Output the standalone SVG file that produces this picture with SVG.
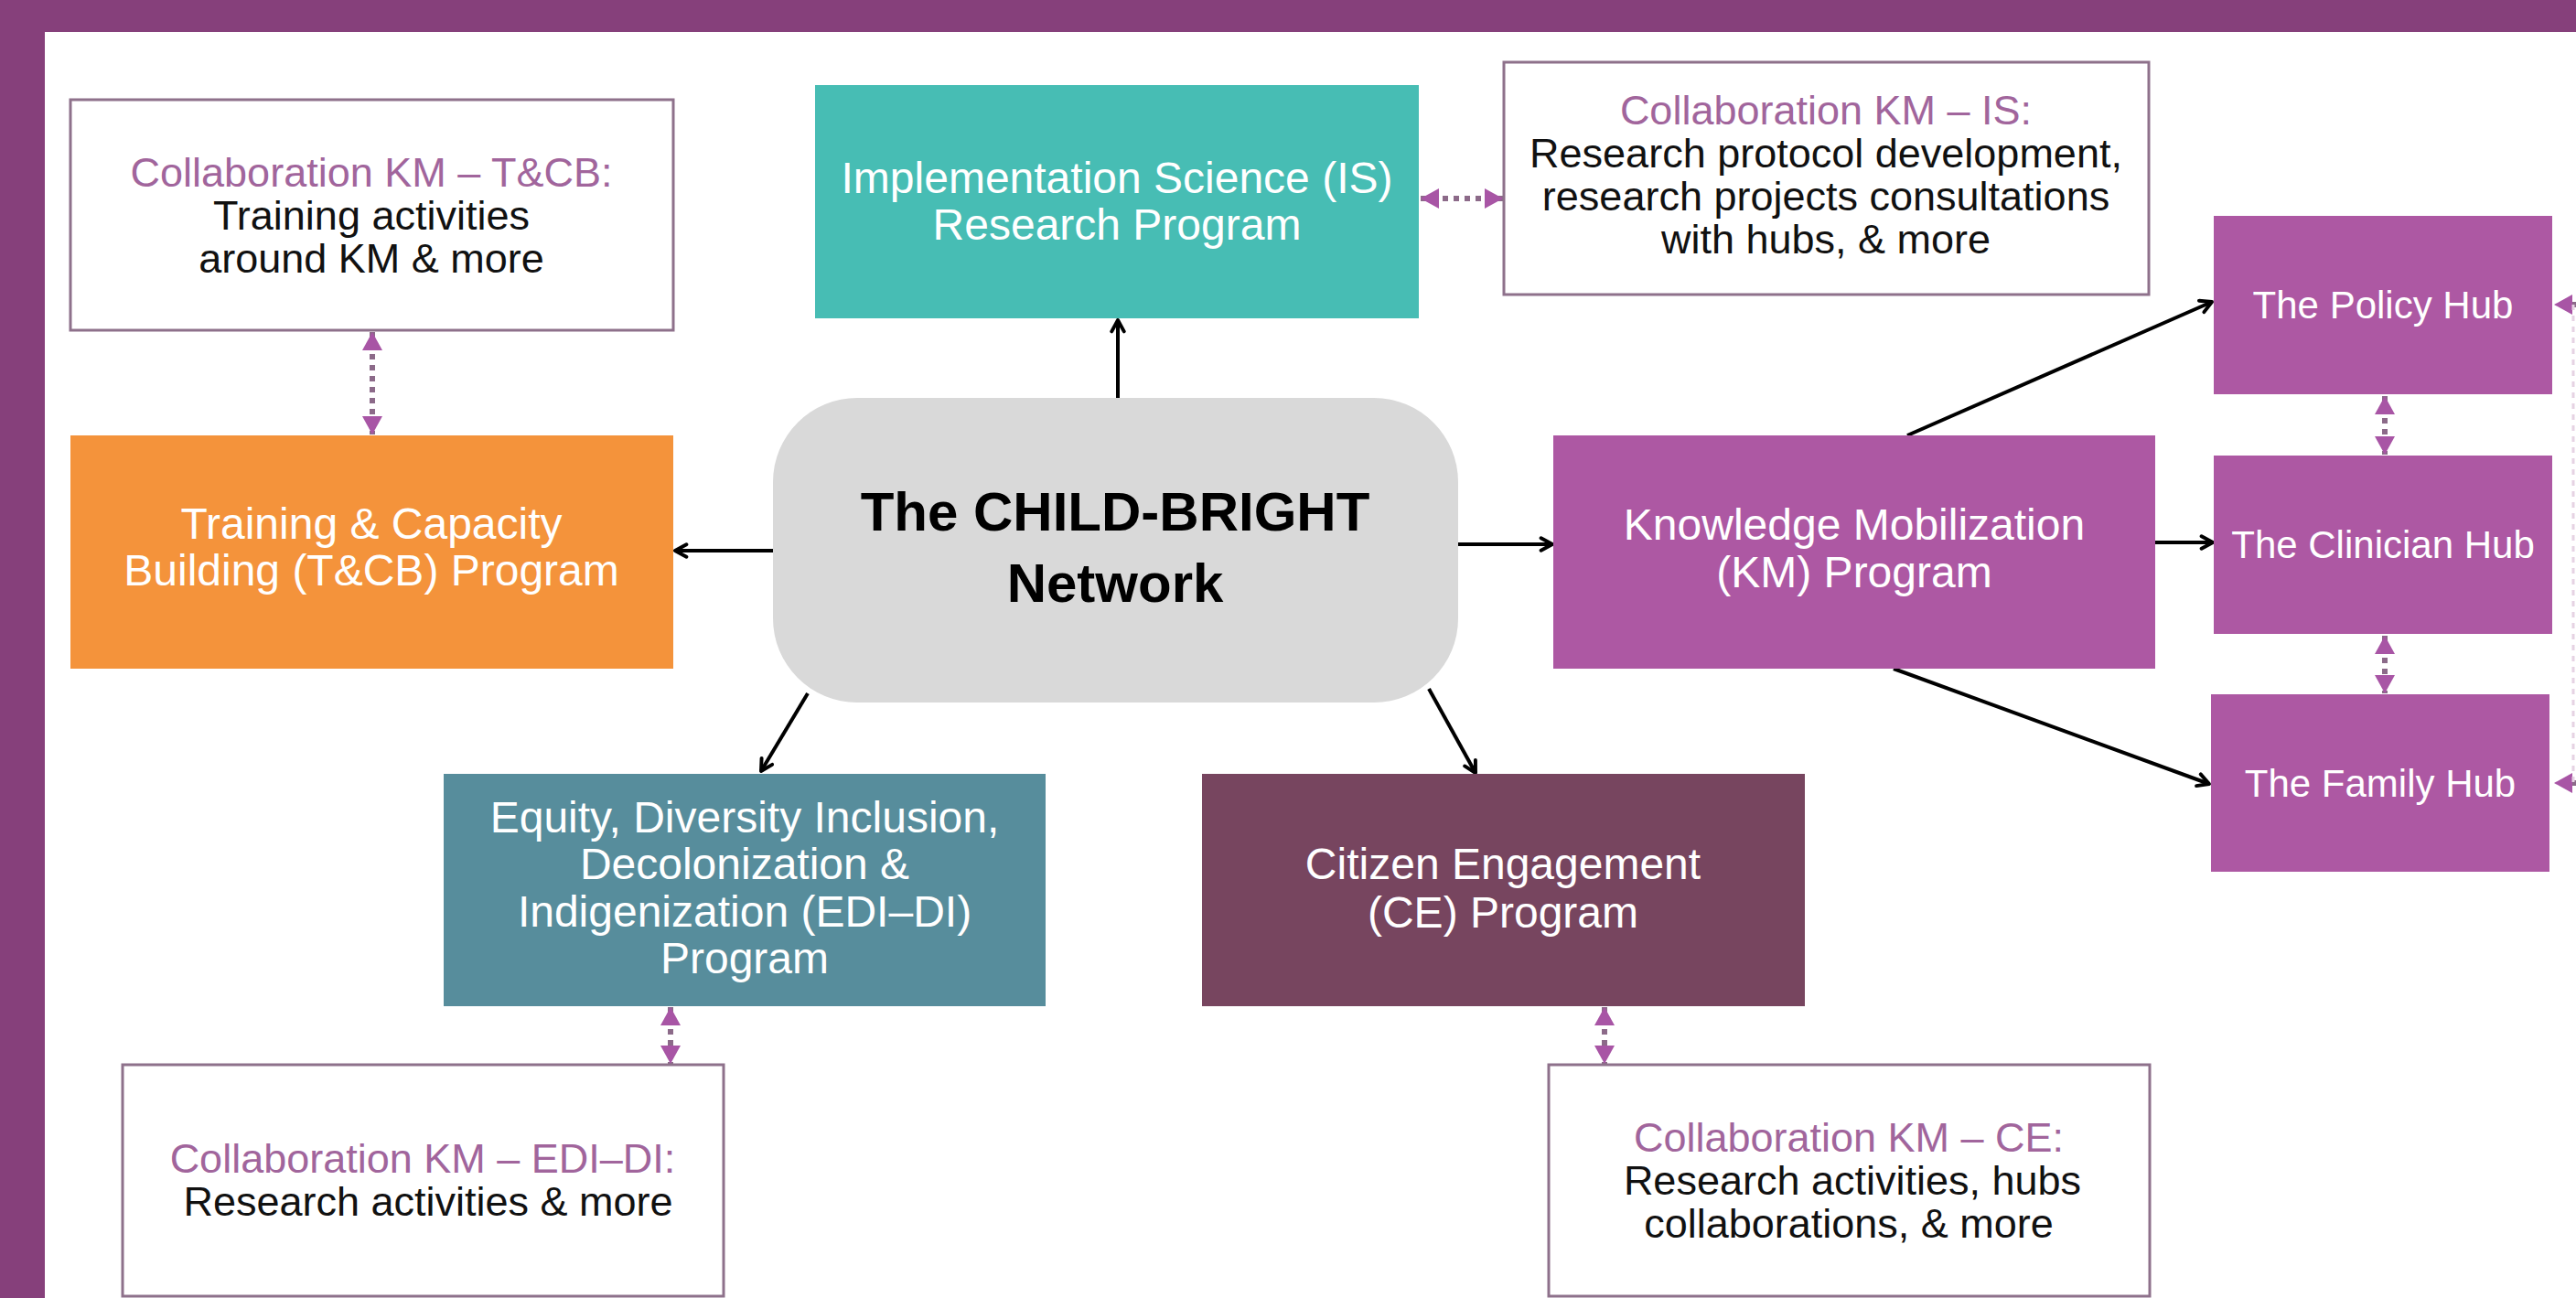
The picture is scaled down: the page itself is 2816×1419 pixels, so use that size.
<svg xmlns="http://www.w3.org/2000/svg" width="2816" height="1419" viewBox="0 0 2816 1419">
<style>
.node-t{font-family:"Liberation Sans",Arial,sans-serif;font-size:48px;fill:#ffffff;text-anchor:middle}
.hub-t{font-family:"Liberation Sans",Arial,sans-serif;font-size:42px;fill:#ffffff;text-anchor:middle}
.center-t{font-family:"Liberation Sans",Arial,sans-serif;font-size:60px;font-weight:bold;fill:#000000;text-anchor:middle}
.col-box{fill:#ffffff;stroke:#8E718B;stroke-width:3}
.col-h{font-family:"Liberation Sans",Arial,sans-serif;font-size:45px;fill:#A1659C;text-anchor:middle}
.col-b{font-family:"Liberation Sans",Arial,sans-serif;font-size:45px;fill:#111111;text-anchor:middle}
.arrow{stroke:#000000;stroke-width:4;fill:none;marker-end:url(#ah)}
.dot{stroke:#8C6A89;stroke-width:6;stroke-dasharray:6 6;fill:none;marker-start:url(#ph);marker-end:url(#ph)}
</style>
<defs>
<marker id="ah" viewBox="0 0 16 16" refX="14" refY="8" markerWidth="18" markerHeight="18" markerUnits="userSpaceOnUse" orient="auto">
<path d="M3,2 L14,8 L3,14" fill="none" stroke="#000000" stroke-width="3.5" stroke-linecap="round" stroke-linejoin="round"/>
</marker>
<marker id="ph" viewBox="0 0 20 22" refX="20" refY="11" markerWidth="20" markerHeight="22" markerUnits="userSpaceOnUse" orient="auto-start-reverse">
<path d="M0,0 L20,11 L0,22 Z" fill="#A855A5"/>
</marker>
</defs>
<rect x="0" y="0" width="2816" height="1419" fill="#86407B"/>
<rect x="49" y="35" width="2767" height="1384" fill="#ffffff"/>

<g id="connectors">
<line class="arrow" x1="1222" y1="435" x2="1222" y2="350"/>
<line class="arrow" x1="845" y1="602" x2="738" y2="602"/>
<line class="arrow" x1="1594" y1="595" x2="1697" y2="595"/>
<line class="arrow" x1="883" y1="758" x2="832" y2="843"/>
<line class="arrow" x1="1562" y1="753" x2="1613" y2="845"/>
<line class="arrow" x1="2085" y1="476" x2="2418" y2="330"/>
<line class="arrow" x1="2356" y1="593" x2="2419" y2="593"/>
<line class="arrow" x1="2070" y1="731" x2="2415" y2="857"/>
<line class="dot" x1="407" y1="363" x2="407" y2="475"/>
<line class="dot" x1="1553" y1="217" x2="1643" y2="217"/>
<line class="dot" x1="2607" y1="433" x2="2607" y2="497"/>
<line class="dot" x1="2607" y1="695" x2="2607" y2="758"/>
<line class="dot" x1="733" y1="1101" x2="733" y2="1163"/>
<line class="dot" x1="1754" y1="1101" x2="1754" y2="1163"/>
<path d="M2816,333 L2792,333" stroke="#8C6A89" stroke-width="6" stroke-dasharray="6 6" fill="none" marker-end="url(#ph)"/>
<path d="M2816,856 L2792,856" stroke="#8C6A89" stroke-width="6" stroke-dasharray="6 6" fill="none" marker-end="url(#ph)"/>
<path d="M2813,333 L2813,856" stroke="#E6D3E3" stroke-width="3" stroke-dasharray="6 6" fill="none"/>
</g>

<g id="collab-tcb">
<rect class="col-box" x="77" y="109" width="659" height="252"/>
<text class="col-h" x="406" y="204">Collaboration KM – T&amp;CB:</text>
<text class="col-b" x="406" y="251">Training activities</text>
<text class="col-b" x="406" y="298">around KM &amp; more</text>
</g>

<g id="is-program">
<rect x="891" y="93" width="660" height="255" fill="#47BDB4"/>
<text class="node-t" x="1221" y="211">Implementation Science (IS)</text>
<text class="node-t" x="1221" y="262">Research Program</text>
</g>

<g id="collab-is">
<rect class="col-box" x="1644" y="68" width="705" height="254"/>
<text class="col-h" x="1996" y="136">Collaboration KM – IS:</text>
<text class="col-b" x="1996" y="183">Research protocol development,</text>
<text class="col-b" x="1996" y="230">research projects consultations</text>
<text class="col-b" x="1996" y="277">with hubs, &amp; more</text>
</g>

<g id="tcb-program">
<rect x="77" y="476" width="659" height="255" fill="#F4933B"/>
<text class="node-t" x="406" y="589">Training &amp; Capacity</text>
<text class="node-t" x="406" y="640">Building (T&amp;CB) Program</text>
</g>

<g id="child-bright">
<rect x="845" y="435" width="749" height="333" rx="92" ry="92" fill="#D9D9D9"/>
<text class="center-t" x="1219" y="580">The CHILD-BRIGHT</text>
<text class="center-t" x="1219" y="658">Network</text>
</g>

<g id="km-program">
<rect x="1698" y="476" width="658" height="255" fill="#AD58A3"/>
<text class="node-t" x="2027" y="590">Knowledge Mobilization</text>
<text class="node-t" x="2027" y="642">(KM) Program</text>
</g>

<g id="policy-hub">
<rect x="2420" y="236" width="370" height="195" fill="#AD58A3"/>
<text class="hub-t" x="2605" y="348">The Policy Hub</text>
</g>

<g id="clinician-hub">
<rect x="2420" y="498" width="370" height="195" fill="#AD58A3"/>
<text class="hub-t" x="2605" y="610">The Clinician Hub</text>
</g>

<g id="family-hub">
<rect x="2417" y="759" width="370" height="194" fill="#AD58A3"/>
<text class="hub-t" x="2602" y="871">The Family Hub</text>
</g>

<g id="edi-program">
<rect x="485" y="846" width="658" height="254" fill="#578D9C"/>
<text class="node-t" x="814" y="910">Equity, Diversity Inclusion,</text>
<text class="node-t" x="814" y="961">Decolonization &amp;</text>
<text class="node-t" x="814" y="1013">Indigenization (EDI–DI)</text>
<text class="node-t" x="814" y="1064">Program</text>
</g>

<g id="ce-program">
<rect x="1314" y="846" width="659" height="254" fill="#77455F"/>
<text class="node-t" x="1643" y="961">Citizen Engagement</text>
<text class="node-t" x="1643" y="1014">(CE) Program</text>
</g>

<g id="collab-edi">
<rect class="col-box" x="134" y="1164" width="657" height="253"/>
<text class="col-h" x="462" y="1282">Collaboration KM – EDI–DI:</text>
<text class="col-b" x="468" y="1329">Research activities &amp; more</text>
</g>

<g id="collab-ce">
<rect class="col-box" x="1693" y="1164" width="657" height="253"/>
<text class="col-h" x="2021" y="1259">Collaboration KM – CE:</text>
<text class="col-b" x="2025" y="1306">Research activities, hubs</text>
<text class="col-b" x="2021" y="1353">collaborations, &amp; more</text>
</g>
</svg>
